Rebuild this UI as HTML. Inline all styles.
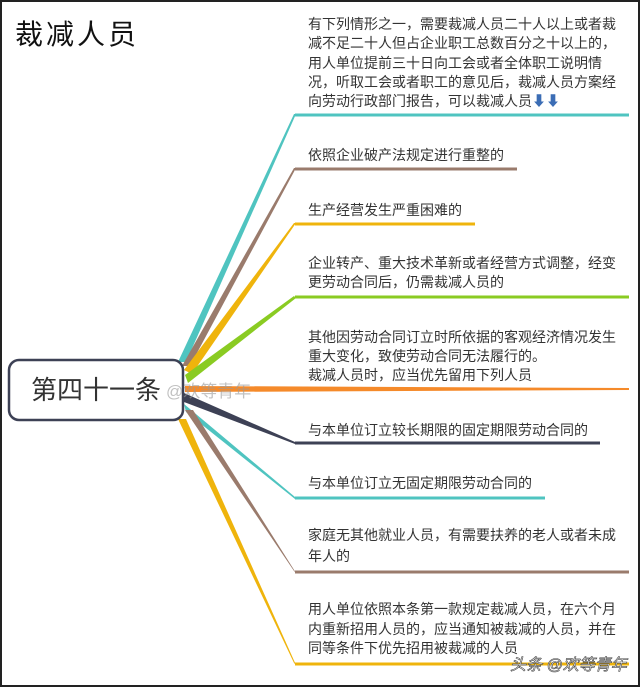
<!DOCTYPE html>
<html><head><meta charset="utf-8"><style>
html,body{margin:0;padding:0;background:#fff}
svg{display:block}
text{font-family:"Liberation Sans","Noto Sans CJK SC",sans-serif}
</style></head><body>
<svg width="640" height="687" viewBox="0 0 640 687" xmlns="http://www.w3.org/2000/svg">
<rect x="0" y="0" width="640" height="687" fill="#fff"/>
<rect x="1" y="1" width="638" height="685" fill="none" stroke="#222" stroke-width="2"/>
<text x="15" y="44" font-size="28" letter-spacing="3" fill="#111">裁减人员</text>

<g stroke-linejoin="round">
<polygon points="178,362 186,362 296,114 294,114" fill="#4fc4c0"/>
<polyline points="295,115 629,115" stroke="#4fc4c0" stroke-width="3" fill="none"/>
<polygon points="182,366 190,366 296,168 294,168" fill="#9a7b6c"/>
<polyline points="295,169 517,169" stroke="#9a7b6c" stroke-width="3" fill="none"/>
<polygon points="184,370 192,374 296,223 294,223" fill="#efb40c"/>
<polyline points="295,224 475,224" stroke="#efb40c" stroke-width="3" fill="none"/>
<polygon points="185,375 188,383 296,298 294,296" fill="#8acb22"/>
<polyline points="295,297 629,297" stroke="#8acb22" stroke-width="3" fill="none"/>
<polygon points="185,386 185,392 629,390 629,388" fill="#f58a2a"/>
<polygon points="184,393 184,402 295,444 295,442" fill="#3d4155"/>
<polyline points="295,443 600,443" stroke="#3d4155" stroke-width="3" fill="none"/>
<polygon points="184,404 186,412 295,499 295,497" fill="#4fc4c0"/>
<polyline points="295,498 545,498" stroke="#4fc4c0" stroke-width="3" fill="none"/>
<polygon points="185,410 193,410 296,573 294,571" fill="#9a7b6c"/>
<polyline points="295,572 629,572" stroke="#9a7b6c" stroke-width="3" fill="none"/>
<polygon points="178,419 186,419 296,665 294,663" fill="#efb40c"/>
<polyline points="295,664 629,664" stroke="#efb40c" stroke-width="3" fill="none"/>
</g>

<rect x="9" y="360" width="174" height="60" rx="10" fill="#fff" stroke="#3d4155" stroke-width="2.5"/>
<text x="31" y="399" font-size="26" fill="#333">第四十一条</text>
<text x="166" y="397" font-size="17" fill="#999" opacity="0.6">@欢等青年</text>

<g font-size="14" fill="#333">
<text x="308" y="29">有下列情形之一，需要裁减人员二十人以上或者裁</text>
<text x="308" y="48">减不足二十人但占企业职工总数百分之十以上的，</text>
<text x="308" y="68">用人单位提前三十日向工会或者全体职工说明情</text>
<text x="308" y="87">况，听取工会或者职工的意见后，裁减人员方案经</text>
<text x="308" y="106">向劳动行政部门报告，可以裁减人员<tspan fill="#3b6db5">⬇⬇</tspan></text>
<text x="308" y="160">依照企业破产法规定进行重整的</text>
<text x="308" y="215">生产经营发生严重困难的</text>
<text x="308" y="268">企业转产、重大技术革新或者经营方式调整，经变</text>
<text x="308" y="287">更劳动合同后，仍需裁减人员的</text>
<text x="308" y="342">其他因劳动合同订立时所依据的客观经济情况发生</text>
<text x="308" y="361">重大变化，致使劳动合同无法履行的。</text>
<text x="308" y="380">裁减人员时，应当优先留用下列人员</text>
<text x="308" y="435">与本单位订立较长期限的固定期限劳动合同的</text>
<text x="308" y="488">与本单位订立无固定期限劳动合同的</text>
<text x="308" y="540">家庭无其他就业人员，有需要扶养的老人或者未成</text>
<text x="308" y="561">年人的</text>
<text x="308" y="614">用人单位依照本条第一款规定裁减人员，在六个月</text>
<text x="308" y="634">内重新招用人员的，应当通知被裁减的人员，并在</text>
<text x="308" y="653">同等条件下优先招用被裁减的人员</text>
</g>
<text x="510" y="670" font-size="16" fill="#fff" stroke="#444" stroke-width="0.6" font-style="italic">头条 @欢等青年</text>
</svg>
</body></html>
